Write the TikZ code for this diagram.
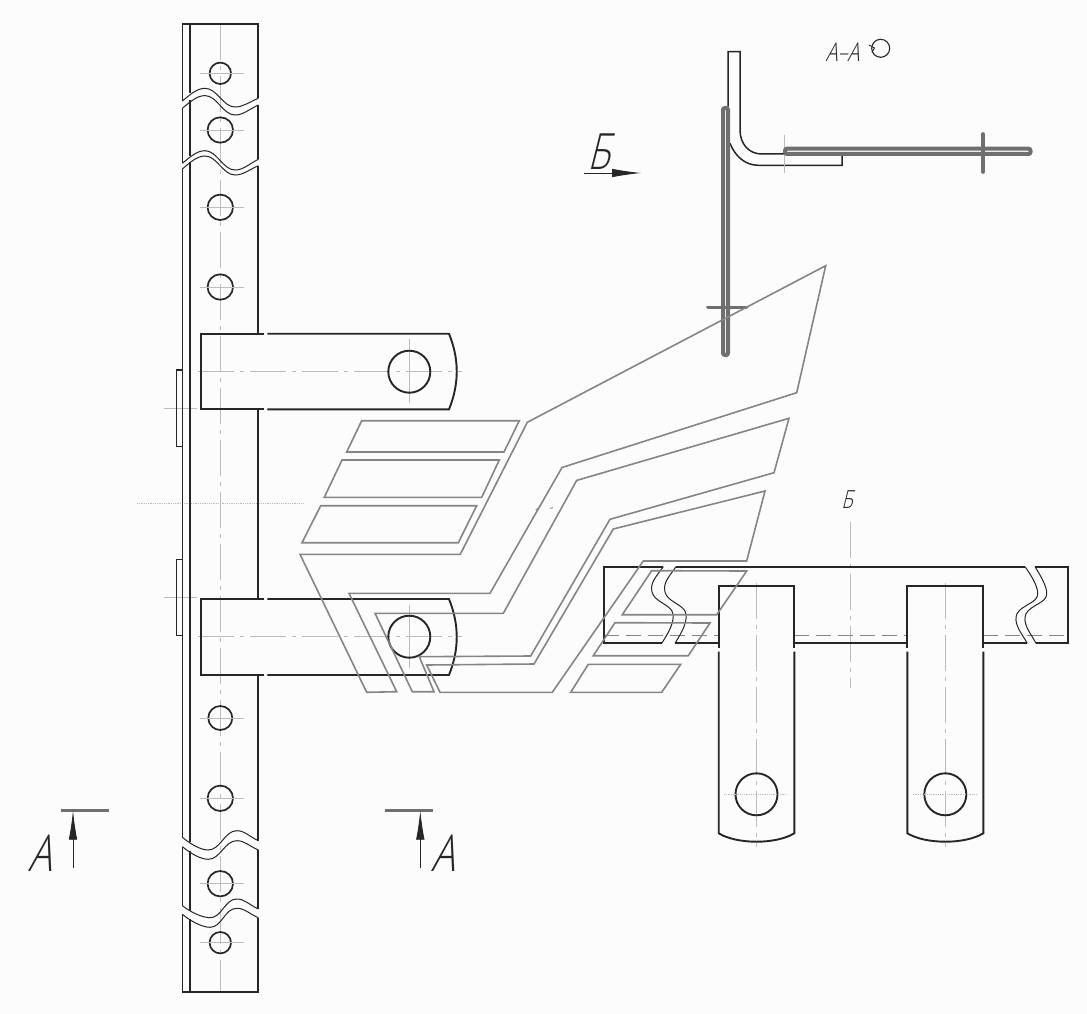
\documentclass[tikz,border=0pt]{standalone}
\usepackage{fontspec}
\usetikzlibrary{arrows.meta}
\newfontfamily\gost[FakeSlant=0.25,FakeStretch=0.76]{Open Sans Light}
\definecolor{bgc}{HTML}{FBFCFB}
\definecolor{blk}{HTML}{262626}
\definecolor{wing}{HTML}{858585}
\definecolor{cen}{HTML}{BDBDBD}
\definecolor{heavy}{HTML}{6F6F6F}
\tikzset{
  part/.style={draw=blk,line width=1.9pt,line join=miter},
  brk/.style={draw=blk,line width=1.0pt},
  wingline/.style={draw=wing,line width=1.6pt,line join=miter},
  centre/.style={draw=cen,line width=0.9pt,dash pattern=on 36pt off 6pt on 4pt off 6pt},
  cross/.style={draw=cen,line width=0.8pt},
  hidden/.style={draw=wing,line width=1pt,dash pattern=on 15pt off 7pt},
  heavyline/.style={draw=heavy,line width=3.6pt,line cap=round},
  heavybox/.style={draw=heavy,line width=4pt,rounded corners=2pt},
  secline/.style={draw=heavy,line width=3pt},
  secarrow/.style={draw=blk,line width=0.8pt,-{Latex[length=29pt,width=8.5pt]}},
  lab/.style={inner sep=0pt,text=blk},
}
\newcommand{\hole}[3]{%
  \draw[part,line width=1.7pt] (#1,#2) circle (#3);
  \draw[cross] (#1-20,#2) -- (#1+24,#2);
}
% wave: y-left, y-extremum-1, y-extremum-2, y-right, x-extremum-1, x-extremum-2
\newcommand{\wave}[6]{%
  \draw[brk] (182.4,#1) .. controls (190,{(#1+#2)/2}) and (#5-8,#2) .. (#5,#2)
    .. controls (#5+12,#2) and (#6-12,#3) .. (#6,#3)
    .. controls (#6+8,#3) and (248,{(#3+#4)/2}) .. (258.3,#4);
}
\begin{document}
\begin{tikzpicture}[x=1pt,y=-1pt]
\useasboundingbox (0,0) rectangle (1087,1014);
\fill[bgc] (0,0) rectangle (1087,1014);

%% ---------- centre lines, left strip
\draw[centre] (220.3,24) -- (220.3,992);
\draw[cross,densely dotted] (137,503) -- (303,503);
\draw[cross] (164,408.3) -- (197,408.3);
\draw[cross] (164,597.3) -- (197,597.3);
\draw[centre] (198,371.7) -- (462,371.7);
\draw[centre] (198,636.7) -- (462,636.7);
\draw[cross] (409.3,339) -- (409.3,403);
\draw[cross] (409.3,605) -- (409.3,668);

%% ---------- left strip
\draw[part] (182.5,101) -- (182.5,23.7) -- (258.3,23.7) -- (258.3,98.3);
\draw[part] (190.3,23.7) -- (190.3,93);
\draw[part] (182.5,108.3) -- (182.5,163.3);
\draw[part] (190.3,100.5) -- (190.3,156.5);
\draw[part] (258.3,105) -- (258.3,159.3);
\draw[part] (182.5,169) -- (182.5,837.3);
\draw[part] (190.3,162) -- (190.3,841.7);
\draw[part] (258.3,165.7) -- (258.3,333.7);
\draw[part] (258.3,409.3) -- (258.3,599);
\draw[part] (258.3,675) -- (258.3,840.7);
\draw[part] (182.5,846.7) -- (182.5,905.7);
\draw[part] (190.3,850.7) -- (190.3,910.7);
\draw[part] (258.3,850) -- (258.3,909);
\draw[part] (182.5,914.3) -- (182.5,991.7) -- (258.3,991.7) -- (258.3,917.7);
\draw[part] (190.3,919.3) -- (190.3,991.7);

%% breaks, left strip
\wave{101}{88.3}{107}{98.3}{205}{235}
\wave{108.3}{95.6}{115}{105}{205}{235}
\wave{163.3}{150.7}{170}{159.3}{205}{235}
\wave{169}{156}{175}{165.7}{205}{235}
\wave{837.3}{850}{830.7}{840.7}{208.3}{236.7}
\wave{846.7}{859.3}{840.7}{850}{208.3}{236.7}
\wave{905.7}{917.7}{899}{909}{210}{236.7}
\wave{914.3}{927.3}{908.3}{917.7}{210}{236.7}

%% side plates
\draw[part,line width=1.3pt] (182.3,370) -- (176.7,370) -- (176.7,446.7) -- (182.3,446.7);
\draw[part,line width=1.3pt] (182.3,559.3) -- (176.7,559.3) -- (176.7,635.7) -- (182.3,635.7);

%% holes
\hole{220.3}{73.3}{10.7}
\hole{220.3}{130}{12.7}
\hole{220.3}{207.3}{12.7}
\hole{220.3}{287}{12.7}
\hole{220.3}{718}{12}
\hole{220.3}{798.3}{12.7}
\hole{220.3}{883.7}{12.7}
\hole{220.3}{942.7}{10.7}

%% tabs
\draw[part] (264.3,333.7) -- (201,333.7) -- (201,409.3) -- (264.3,409.3);
\draw[part] (267.3,333.7) -- (449,333.7) .. controls (459.3,359) and (459.3,384) .. (449,409.3) -- (267.3,409.3);
\draw[part] (409.3,371.7) circle (21);
\draw[part] (264.3,599) -- (201,599) -- (201,675) -- (264.3,675);
\draw[part] (267.3,599) -- (449,599) .. controls (459.3,624.5) and (459.3,649.5) .. (449,675) -- (267.3,675);
\draw[part] (409.3,636.7) circle (21);

%% ---------- right bar
\draw[centre] (850.3,521.7) -- (850.3,688);
\draw[centre] (756.5,583) -- (756.5,847);
\draw[centre] (945.3,583) -- (945.3,847);
\draw[hidden] (604,635) -- (718.7,635);
\draw[hidden] (794.3,635) -- (907.3,635);
\draw[hidden] (983.3,635) -- (1068.3,635);
\draw[part] (663.3,566.7) -- (604,566.7) -- (604,643.3) -- (661.7,643.3);
\draw[part] (676,566.7) -- (1025,566.7);
\draw[part] (675,643.3) -- (718.7,643.3);
\draw[part] (794.3,643.3) -- (907.3,643.3);
\draw[part] (983.3,643.3) -- (1027.3,643.3);
\draw[part] (1035,566.7) -- (1068.3,566.7) -- (1068.3,643.3) -- (1036,643.3);
\draw[brk] (663.3,566.7) .. controls (655,578) and (650,583) .. (652,592)
   .. controls (654,601) and (668,604) .. (672,611) .. controls (676,620) and (669,632) .. (661.7,643.3);
\draw[brk] (676,566.7) .. controls (668,578) and (663,583) .. (665,592)
   .. controls (667,601) and (681,604) .. (685,611) .. controls (689,620) and (682,632) .. (675,643.3);
\draw[brk] (1025,566.7) .. controls (1033,578) and (1040,590) .. (1037,597)
   .. controls (1034,604) and (1017,607) .. (1016,617) .. controls (1015,626) and (1022,634) .. (1027.3,643.3);
\draw[brk] (1035,566.7) .. controls (1042,578) and (1049,590) .. (1046,597)
   .. controls (1043,604) and (1026,607) .. (1025,617) .. controls (1024,626) and (1031,634) .. (1036,643.3);

\draw[part] (718.7,648) -- (718.7,585.7) -- (794.3,585.7) -- (794.3,648);
\draw[part] (718.7,651.7) -- (718.7,833.3) .. controls (737,844.5) and (776,844.5) .. (794.3,833.3) -- (794.3,651.7);
\draw[part] (907.3,648) -- (907.3,585.7) -- (983.3,585.7) -- (983.3,648);
\draw[part] (907.3,651.7) -- (907.3,833.3) .. controls (926,844.5) and (965,844.5) .. (983.3,833.3) -- (983.3,651.7);
\draw[part] (756.5,794.3) circle (21);
\draw[part] (945.3,794.3) circle (21);
\draw[cross,densely dotted] (724,794.3) -- (787,794.3);
\draw[cross,densely dotted] (912.7,794.3) -- (976,794.3);

%% ---------- section A-A
\draw[part,line width=1.5pt] (728,106.7) -- (728,51.7) -- (740,51.7) -- (740,130)
   .. controls (740,144) and (749,154) .. (761.7,154) -- (784.3,154);
\draw[part,line width=1.5pt] (730,143.3) .. controls (735,156) and (745,165.3) .. (758.3,165.3) -- (842,165.3) -- (842,156);
\draw[cross] (784.3,135) -- (784.3,173);
\draw[heavybox] (723,108) rectangle (728,355);
\draw[heavybox] (785,148.7) rectangle (1030.5,154);
\draw[heavyline] (983,134) -- (983,172);
\draw[heavyline] (708,307.3) -- (746.5,307.3);
\draw[draw=blk,line width=1.1pt] (880.7,48.3) circle (9);
\draw[draw=blk,line width=0.9pt] (869,45) -- (874.5,48) -- (872,52.5);

%% ---------- wing outlines
\draw[wingline] (361.7,420.7) -- (519.3,420.7) -- (504,452) -- (346.7,452) -- cycle;
\draw[wingline] (342,460) -- (499.3,460) -- (481.7,497.3) -- (324.3,497.3) -- cycle;
\draw[wingline] (320.7,505.7) -- (476.7,505.7) -- (458.3,542.7) -- (302,542.7) -- cycle;
\draw[wingline] (300,554.3) -- (460.3,554.3) -- (527.3,422.3) -- (825.7,265.7) -- (796.7,392.7)
   -- (562,467.5) -- (490,593.3) -- (349,593.3) -- (396.7,691.7) -- (366.7,692.3) -- cycle;
\draw[wingline] (375,613.3) -- (503.3,613.3) -- (576.7,480.4) -- (789,418.3) -- (774,472.7)
   -- (610,519.3) -- (530.7,656) -- (419.3,656.7) -- (434,691.7) -- (412.3,691.7) -- cycle;
\draw[wingline] (426.7,665) -- (534,664) -- (613.3,529) -- (765,491) -- (746.7,561)
   -- (643.3,561) -- (552.3,692.3) -- (440,692.3) -- cycle;
\draw[wingline] (651.7,570.7) -- (746.7,571) -- (716.7,614.7) -- (622.3,614.7) -- cycle;
\draw[wingline] (615,622.7) -- (710,623) -- (688.3,655.7) -- (593.3,655.7) -- cycle;
\draw[wingline] (588.3,664.3) -- (680.7,664.3) -- (661.7,692.3) -- (570.7,692.3) -- cycle;
\draw[draw=wing,line width=0.8pt] (535.5,510) -- (539,508);
\draw[draw=wing,line width=0.8pt] (550,508.5) -- (553,507.5);

%% ---------- section marks
\draw[secline] (60.7,810.7) -- (109,810.7);
\coordinate (leftfoot) at (73,868.3);
\coordinate (lefthead) at (73,810.7);
\draw[secarrow] (leftfoot) -- (lefthead);
\draw[secline] (385,810.7) -- (433.3,810.7);
\coordinate (rightfoot) at (420.3,868.3);
\coordinate (righthead) at (420.3,810.7);
\draw[secarrow] (rightfoot) -- (righthead);
\coordinate (viewfoot) at (584,173);
\coordinate (viewhead) at (641,173);
\draw[secarrow] (viewfoot) -- (viewhead);

%% ---------- labels
\node[lab] (labA1) at (40.5,853.5) {\gost\fontsize{51}{51}\selectfont А};
\node[lab] (labA2) at (443.5,853.5) {\gost\fontsize{51}{51}\selectfont А};
\node[lab] (labB1) at (599,152) {\gost\fontsize{50}{50}\selectfont Б};
\node[lab] (labB2) at (847,500) {\gost\fontsize{25}{25}\selectfont Б};
\node[lab] (labAA) at (842.5,52) {\gost\fontsize{26}{26}\selectfont А–А};
\end{tikzpicture}
\end{document}
